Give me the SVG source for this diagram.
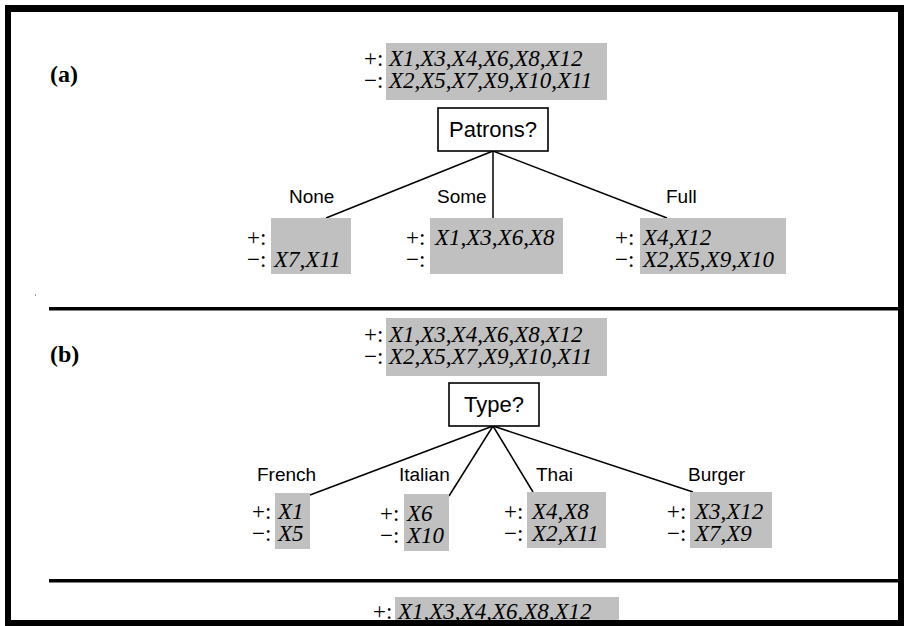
<svg xmlns="http://www.w3.org/2000/svg" width="904" height="626" viewBox="0 0 904 626">
<style>
.g{fill:#c0c0c0}
.s{font-family:"Liberation Serif","Times New Roman",serif;font-size:23px;fill:#000}
.t{font-family:"Liberation Serif","Times New Roman",serif;font-size:23px;font-style:italic;fill:#000}
.lbl{font-family:"Liberation Sans",Arial,sans-serif;font-size:19px;fill:#000}
.q{font-family:"Liberation Sans",Arial,sans-serif;font-size:22px;fill:#000;text-anchor:middle}
.box{fill:#fff;stroke:#000;stroke-width:1.6}
.edge{stroke:#000;stroke-width:1.5;fill:none}
.frame{fill:#000}
.panel{font-family:"Liberation Serif","Times New Roman",serif;font-weight:bold;font-size:24px;fill:#000}
</style>
<rect x="0" y="0" width="904" height="626" fill="#fff"/>
<g id="connectors">
<line class="edge" x1="493" y1="151" x2="326" y2="218"/>
<line class="edge" x1="493" y1="151" x2="493" y2="218"/>
<line class="edge" x1="493" y1="151" x2="667" y2="218"/>
<line class="edge" x1="493" y1="426" x2="310" y2="495"/>
<line class="edge" x1="493" y1="426" x2="449" y2="496"/>
<line class="edge" x1="493" y1="426" x2="533" y2="492"/>
<line class="edge" x1="493" y1="426" x2="693" y2="492"/>
</g>
<g id="edge-labels">
<text class="lbl" x="289" y="203">None</text>
<text class="lbl" x="437" y="203">Some</text>
<text class="lbl" x="666" y="203">Full</text>
<text class="lbl" x="257" y="481">French</text>
<text class="lbl" x="399" y="481">Italian</text>
<text class="lbl" x="536" y="481">Thai</text>
<text class="lbl" x="688" y="481">Burger</text>
</g>
<g id="label-a"><text class="panel" x="50" y="82">(a)</text></g>
<g id="label-b"><text class="panel" x="50" y="362">(b)</text></g>
<g id="rootA">
<rect class="g" x="386" y="43" width="221" height="57"/>
<text class="s" x="364" y="66">+:</text>
<text class="t" x="389" y="66">X1,X3,X4,X6,X8,X12</text>
<text class="s" x="364" y="88">−:</text>
<text class="t" x="389" y="88">X2,X5,X7,X9,X10,X11</text>
</g>
<g id="patrons">
<rect class="box" x="438" y="108" width="110" height="43"/>
<text class="q" x="493" y="137">Patrons?</text>
</g>
<g id="leafNone">
<rect class="g" x="271" y="218" width="80" height="56"/>
<text class="s" x="247" y="245">+:</text>
<text class="s" x="247" y="267">−:</text>
<text class="t" x="274" y="267">X7,X11</text>
</g>
<g id="leafSome">
<rect class="g" x="430" y="218" width="133" height="56"/>
<text class="s" x="406" y="245">+:</text>
<text class="t" x="435" y="245">X1,X3,X6,X8</text>
<text class="s" x="406" y="267">−:</text>
</g>
<g id="leafFull">
<rect class="g" x="640" y="218" width="146" height="56"/>
<text class="s" x="615" y="245">+:</text>
<text class="t" x="643" y="245">X4,X12</text>
<text class="s" x="615" y="267">−:</text>
<text class="t" x="643" y="267">X2,X5,X9,X10</text>
</g>
<g id="rootB">
<rect class="g" x="386" y="318" width="221" height="58"/>
<text class="s" x="364" y="342">+:</text>
<text class="t" x="389" y="342">X1,X3,X4,X6,X8,X12</text>
<text class="s" x="364" y="364">−:</text>
<text class="t" x="389" y="364">X2,X5,X7,X9,X10,X11</text>
</g>
<g id="type">
<rect class="box" x="449" y="383" width="90" height="43"/>
<text class="q" x="494" y="412">Type?</text>
</g>
<g id="leafFrench">
<rect class="g" x="275" y="493" width="35" height="56"/>
<text class="s" x="252" y="519">+:</text>
<text class="t" x="278" y="519">X1</text>
<text class="s" x="252" y="541">−:</text>
<text class="t" x="278" y="541">X5</text>
</g>
<g id="leafItalian">
<rect class="g" x="404" y="494" width="45" height="57"/>
<text class="s" x="380" y="521">+:</text>
<text class="t" x="407" y="521">X6</text>
<text class="s" x="380" y="543">−:</text>
<text class="t" x="407" y="543">X10</text>
</g>
<g id="leafThai">
<rect class="g" x="527" y="492" width="79" height="56"/>
<text class="s" x="504" y="519">+:</text>
<text class="t" x="532" y="519">X4,X8</text>
<text class="s" x="504" y="541">−:</text>
<text class="t" x="532" y="541">X2,X11</text>
</g>
<g id="leafBurger">
<rect class="g" x="690" y="492" width="82" height="56"/>
<text class="s" x="667" y="519">+:</text>
<text class="t" x="695" y="519">X3,X12</text>
<text class="s" x="667" y="541">−:</text>
<text class="t" x="695" y="541">X7,X9</text>
</g>
<g id="rootC">
<rect class="g" x="395" y="597" width="224" height="29"/>
<text class="s" x="373" y="619">+:</text>
<text class="t" x="398" y="619">X1,X3,X4,X6,X8,X12</text>
</g>
<g id="frame">
<rect class="frame" x="49" y="307" width="850" height="3.5"/>
<rect class="frame" x="49" y="579" width="850" height="3.5"/>
<rect x="35" y="294" width="1" height="2" fill="#999"/>
<rect class="frame" x="5" y="5" width="898" height="7"/>
<rect class="frame" x="5" y="5" width="6" height="621"/>
<rect class="frame" x="898" y="5" width="6" height="621"/>
<rect class="frame" x="5" y="620" width="899" height="6"/>
</g>
</svg>
